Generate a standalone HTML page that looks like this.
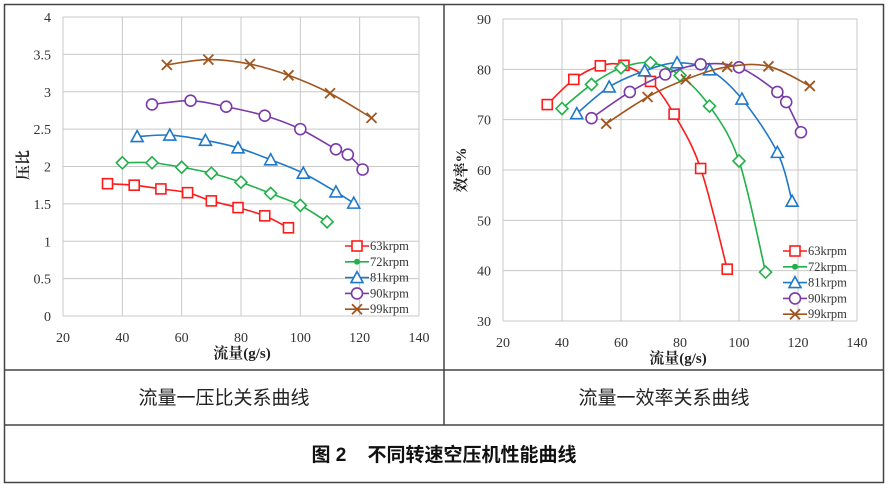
<!DOCTYPE html><html><head><meta charset="utf-8"><style>
body{margin:0;background:#fff;width:888px;height:485px;overflow:hidden}
</style></head><body>
<svg id="s" width="888" height="485" xmlns="http://www.w3.org/2000/svg" font-family="'Liberation Serif','Noto Serif CJK SC',serif">
<rect x="4.5" y="4.5" width="879" height="478" fill="none" stroke="#444" stroke-width="1.5"/>
<line x1="444" y1="4" x2="444" y2="425" stroke="#444" stroke-width="1.5"/>
<line x1="4" y1="370" x2="884" y2="370" stroke="#444" stroke-width="1.5"/>
<line x1="4" y1="425" x2="884" y2="425" stroke="#444" stroke-width="1.5"/>
<text x="224" y="404" font-size="19" text-anchor="middle" font-family="'Liberation Sans','Noto Sans CJK SC',sans-serif" fill="#222">流量一压比关系曲线</text>
<text x="664" y="404" font-size="19" text-anchor="middle" font-family="'Liberation Sans','Noto Sans CJK SC',sans-serif" fill="#222">流量一效率关系曲线</text>
<text x="444" y="461" font-size="19" font-weight="bold" text-anchor="middle" font-family="'Liberation Sans','Noto Sans CJK SC',sans-serif" fill="#111" xml:space="preserve">图 2    不同转速空压机性能曲线</text>
<g id="g"></g>
</svg>
<script>
var g=document.getElementById('g'),NS='http://www.w3.org/2000/svg';
function el(t,a,txt){var e=document.createElementNS(NS,t);for(var k in a)e.setAttribute(k,a[k]);if(txt!=null)e.textContent=txt;g.appendChild(e);return e;}
var cols=['#ff1a1a','#22b04b','#1f78c8','#7a3aa8','#a0561f'];
var names=['63krpm','72krpm','81krpm','90krpm','99krpm'];
function marker(i,x,y){var c=cols[i];
 if(i==0)el('rect',{x:x-5,y:y-5,width:10,height:10,fill:'#fff',stroke:c,'stroke-width':1.6});
 else if(i==1)el('polygon',{points:(x)+','+(y-6)+' '+(x+6)+','+y+' '+x+','+(y+6)+' '+(x-6)+','+y,fill:'#fff',stroke:c,'stroke-width':1.6});
 else if(i==2)el('polygon',{points:x+','+(y-6)+' '+(x+6)+','+(y+5)+' '+(x-6)+','+(y+5),fill:'#fff',stroke:c,'stroke-width':1.6});
 else if(i==3)el('circle',{cx:x,cy:y,r:5.5,fill:'#fff',stroke:c,'stroke-width':1.6});
 else {el('path',{d:'M'+(x-5)+' '+(y-5)+'L'+(x+5)+' '+(y+5)+'M'+(x+5)+' '+(y-5)+'L'+(x-5)+' '+(y+5),stroke:c,'stroke-width':1.8});}
}
function spline(p){var d='M'+p[0][0]+' '+p[0][1];for(var i=0;i<p.length-1;i++){var p0=p[i-1]||p[i],p1=p[i],p2=p[i+1],p3=p[i+2]||p2;var t=0.5/3;
d+='C'+(p1[0]+(p2[0]-p0[0])*t)+' '+(p1[1]+(p2[1]-p0[1])*t)+' '+(p2[0]-(p3[0]-p1[0])*t)+' '+(p2[1]-(p3[1]-p1[1])*t)+' '+p2[0]+' '+p2[1];}return d;}
function chart(o){
 var X=function(v){return o.x0+(v-20)*(o.x1-o.x0)/120},Y=function(v){return o.y0+(v-o.ymin)*(o.y1-o.y0)/(o.ymax-o.ymin)};
 for(var v=20;v<=140;v+=20){el('line',{x1:X(v),y1:o.y1,x2:X(v),y2:o.y0,stroke:'#c8c8c8','stroke-width':1});el('text',{x:X(v),y:o.y0+26,'font-size':14,'text-anchor':'middle',fill:'#333'},v);}
 for(var v=o.ymin;v<=o.ymax+1e-9;v+=o.step){el('line',{x1:o.x0,y1:Y(v),x2:o.x1,y2:Y(v),stroke:'#c8c8c8','stroke-width':1});el('text',{x:o.x0-12,y:Y(v)+5,'font-size':14,'text-anchor':'end',fill:'#333'},Math.round(v*10)/10);}
 o.data.forEach(function(s,i){var p=s.map(function(q){return[X(q[0]),Y(q[1])]});el('path',{d:spline(p),fill:'none',stroke:cols[i],'stroke-width':1.6});p.forEach(function(q){marker(i,q[0],q[1])});});
 for(var i=0;i<5;i++){var ly=o.ly+i*15.8;el('line',{x1:o.lx,y1:ly,x2:o.lx+24,y2:ly,stroke:cols[i],'stroke-width':1.6});
  if(i==1)el('circle',{cx:o.lx+12,cy:ly,r:3,fill:cols[1]});else marker(i,o.lx+12,ly);
  el('text',{x:o.lx+25,y:ly+4,'font-size':12.5,fill:'#333'},names[i]);}
 el('text',{x:o.xl,y:o.y0+42,'font-size':15,'font-weight':'bold','text-anchor':'middle',fill:'#222'},'流量(g/s)');
 var t=el('text',{x:o.yx,y:o.yy,'font-size':15,'font-weight':'bold','text-anchor':'middle',fill:'#222',transform:'rotate(-90 '+o.yx+' '+o.yy+')'},o.yt);
}
chart({x0:63,x1:419,y0:316,y1:17,ymin:0,ymax:4,step:0.5,lx:345,ly:246,xl:242,yx:28,yy:165,yt:'压比',data:[
[[35,1.77],[44,1.75],[53,1.70],[62,1.65],[70,1.54],[79,1.45],[88,1.34],[96,1.18]],
[[40,2.05],[50,2.05],[60,1.99],[70,1.91],[80,1.79],[90,1.64],[100,1.48],[109,1.26]],
[[45,2.40],[56,2.42],[68,2.35],[79,2.25],[90,2.09],[101,1.91],[112,1.66],[118,1.51]],
[[50,2.83],[63,2.88],[75,2.80],[88,2.68],[100,2.50],[112,2.23],[116,2.16],[121,1.96]],
[[55,3.36],[69,3.43],[83,3.37],[96,3.22],[110,2.98],[124,2.65]]]});
chart({x0:503,x1:857,y0:321,y1:19,ymin:30,ymax:90,step:10,lx:783,ly:251,xl:678,yx:466,yy:170,yt:'效率%',data:[
[[35,73],[44,78],[53,80.7],[61,80.8],[70,77.6],[78,71.1],[87,60.3],[96,40.3]],
[[40,72.2],[50,77],[60,80.3],[70,81.3],[80,78.8],[90,72.7],[100,61.8],[109,39.7]],
[[45,71.2],[56,76.5],[68,79.7],[79,81.3],[90,79.9],[101,74.1],[113,63.5],[118,53.8]],
[[50,70.3],[63,75.5],[75,79],[87,81],[100,80.4],[113,75.5],[116,73.5],[121,67.5]],
[[55,69.2],[69,74.5],[82,78],[96,80.5],[110,80.6],[124,76.7]]]});
</script>
</body></html>
